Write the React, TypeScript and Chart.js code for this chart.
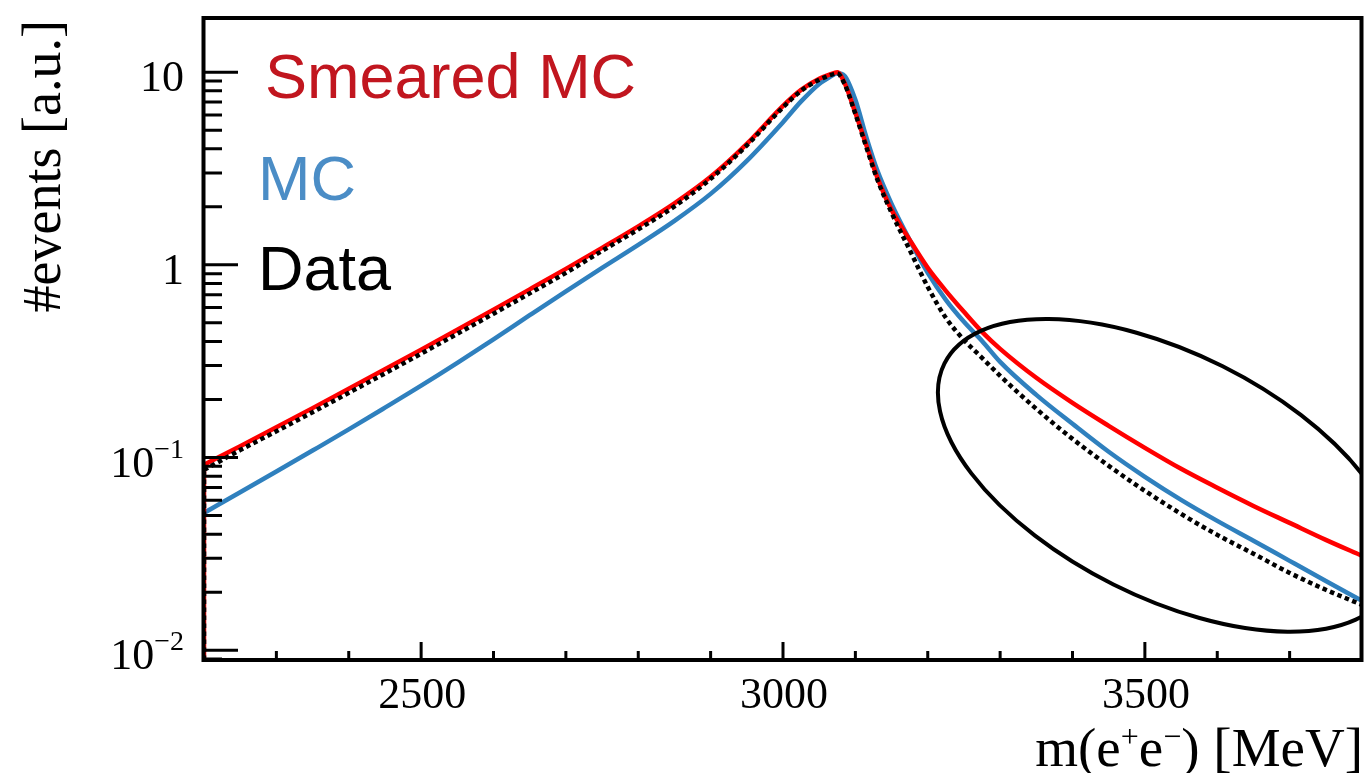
import React, { useEffect, useRef } from "react";
import { Chart, registerables } from "chart.js";

Chart.register(...registerables);

// ---- data ----
const massMeV = [
  2200, 2250, 2300, 2350, 2400, 2450, 2500, 2550, 2600, 2650, 2700, 2750, 2800, 2850,
  2900, 2950, 3000, 3025, 3050, 3065, 3075, 3085, 3100, 3115, 3130, 3150, 3175, 3200,
  3225, 3250, 3275, 3300, 3350, 3400, 3450, 3500, 3550, 3600, 3650, 3700, 3750, 3800,
];

const smearedMC = [
  0.0917, 0.1146, 0.1436, 0.1805, 0.2273, 0.2869, 0.363, 0.4604, 0.5855, 0.7461, 0.9532, 1.225, 1.584, 2.085,
  2.862, 4.246, 6.685, 8.092, 9.23, 9.741, 9.977, 8.8, 6.148, 4.195, 2.862, 1.929, 1.348, 0.9648,
  0.733, 0.5704, 0.449, 0.3665, 0.2593, 0.1922, 0.1461, 0.1123, 0.0874, 0.0697, 0.0561, 0.0458, 0.0374, 0.0309,
];

const mcSim = [
  0.0516, 0.066, 0.0846, 0.1087, 0.14, 0.1815, 0.236, 0.31, 0.411, 0.548, 0.729, 0.9648, 1.27, 1.692,
  2.335, 3.465, 5.5, 7.05, 8.69, 9.45, 9.86, 9.57, 7.18, 4.62, 3.11, 2.073, 1.348, 0.909,
  0.658, 0.506, 0.403, 0.3137, 0.2115, 0.1496, 0.1071, 0.0794, 0.0603, 0.0469, 0.037, 0.0291, 0.0229, 0.01805,
];

const dataValues = [
  0.0863, 0.1093, 0.1369, 0.172, 0.2167, 0.2734, 0.346, 0.4389, 0.558, 0.7113, 0.9088, 1.182, 1.528, 2.012,
  2.795, 4.171, 6.566, 7.998, 9.121, 9.626, 9.858, 8.695, 6.075, 4.097, 2.795, 1.862, 1.196, 0.769,
  0.531, 0.408, 0.3292, 0.2655, 0.1789, 0.125, 0.0906, 0.0672, 0.051, 0.0397, 0.0317, 0.0252, 0.0206, 0.0172,
];

const xMin = 2200;
const xMax = 3800;
const yMin = 0.0089;
const yMax = 19.1;

const xMajorTicks = [2500, 3000, 3500];
const xMinorTicks = [2300, 2400, 2600, 2700, 2800, 2900, 3100, 3200, 3300, 3400, 3600, 3700];
const yMajorTicks = [0.01, 0.1, 1, 10];
const yTickBase = ["10", "10", "1", "10"];
const yTickExponent = ["\u22122", "\u22121", "", ""];
const yMinorTicks = [
  0.009, 0.02, 0.03, 0.04, 0.05, 0.06, 0.07, 0.08, 0.09,
  0.2, 0.3, 0.4, 0.5, 0.6, 0.7, 0.8, 0.9,
  2, 3, 4, 5, 6, 7, 8, 9,
];

const legendLabels = ["Smeared MC", "MC", "Data"];
const legendColors = ["#c1161f", "#4b8dc6", "#000000"];

// annotation ellipse: centre in data units, radii in px, rotation in degrees
const ellipseNote = { centerMeV: 3532, centerValue: 0.0808, rx: 250, ry: 122, angleDeg: 26.6 };

const SERIF = '"Liberation Serif", "Times New Roman", serif';
const SANS = '"Liberation Sans", Arial, sans-serif';

const toPoints = (vals: number[]) => massMeV.map((m, i) => ({ x: m, y: vals[i] }));
// histogram's rising edge at the lower mass limit (from the axis floor up to the first bin)
const edgePoints = (vals: number[]) => [
  { x: massMeV[0], y: yMin },
  { x: massMeV[0], y: vals[0] },
];

const decorPlugin = {
  id: "decor",
  afterDatasetsDraw(chart: any) {
    const { ctx, chartArea: a, scales } = chart;
    const xs = scales.x;
    const ys = scales.y;
    ctx.save();

    // ellipse annotation, clipped to the frame
    ctx.save();
    ctx.beginPath();
    ctx.rect(a.left, a.top, a.right - a.left, a.bottom - a.top);
    ctx.clip();
    ctx.beginPath();
    ctx.ellipse(
      xs.getPixelForValue(ellipseNote.centerMeV),
      ys.getPixelForValue(ellipseNote.centerValue),
      ellipseNote.rx,
      ellipseNote.ry,
      (ellipseNote.angleDeg * Math.PI) / 180,
      0,
      Math.PI * 2
    );
    ctx.lineWidth = 4;
    ctx.strokeStyle = "#000";
    ctx.stroke();
    ctx.restore();

    // ticks
    ctx.strokeStyle = "#000";
    ctx.lineWidth = 3;
    ctx.lineCap = "butt";
    ctx.beginPath();
    xMajorTicks.forEach((m) => {
      const px = xs.getPixelForValue(m);
      ctx.moveTo(px, a.bottom);
      ctx.lineTo(px, a.bottom - 18);
    });
    xMinorTicks.forEach((m) => {
      const px = xs.getPixelForValue(m);
      ctx.moveTo(px, a.bottom);
      ctx.lineTo(px, a.bottom - 9);
    });
    yMajorTicks.forEach((v) => {
      const py = ys.getPixelForValue(v);
      ctx.moveTo(a.left, py);
      ctx.lineTo(a.left + 34, py);
    });
    yMinorTicks.forEach((v) => {
      const py = ys.getPixelForValue(v);
      ctx.moveTo(a.left, py);
      ctx.lineTo(a.left + 18, py);
    });
    ctx.stroke();

    // frame
    ctx.lineWidth = 4;
    ctx.strokeRect(a.left - 0.5, a.top, a.right - a.left, a.bottom - a.top);

    // x tick labels
    ctx.fillStyle = "#000";
    ctx.font = `44px ${SERIF}`;
    ctx.textAlign = "center";
    ctx.textBaseline = "alphabetic";
    xMajorTicks.forEach((m) => {
      ctx.fillText(String(m), xs.getPixelForValue(m) + 1, a.bottom + 48);
    });

    // y tick labels with superscript exponents
    yMajorTicks.forEach((v, i) => {
      const py = ys.getPixelForValue(v);
      const base = yTickBase[i];
      const exp = yTickExponent[i];
      ctx.font = `44px ${SERIF}`;
      const wb = ctx.measureText(base).width;
      ctx.font = `28px ${SERIF}`;
      const we = exp ? ctx.measureText(exp).width : 0;
      const right = a.left - 20;
      const start = right - wb - we;
      ctx.textAlign = "left";
      ctx.font = `44px ${SERIF}`;
      ctx.fillText(base, start, py + 19);
      if (exp) {
        ctx.font = `28px ${SERIF}`;
        ctx.fillText(exp, start + wb, py);
      }
    });

    // x axis title: m(e+e-) [MeV]
    const parts: [string, boolean][] = [
      ["m(e", false],
      ["+", true],
      ["e", false],
      ["\u2212", true],
      [") [MeV]", false],
    ];
    const bigFont = `55px ${SERIF}`;
    const supFont = `32px ${SERIF}`;
    let total = 0;
    parts.forEach(([t, sup]) => {
      ctx.font = sup ? supFont : bigFont;
      total += ctx.measureText(t).width;
    });
    let cx = a.right + 1 - total;
    const base = a.bottom + 106;
    ctx.textAlign = "left";
    parts.forEach(([t, sup]) => {
      ctx.font = sup ? supFont : bigFont;
      ctx.fillText(t, cx, sup ? base - 19 : base);
      cx += ctx.measureText(t).width;
    });

    // y axis title
    ctx.save();
    ctx.translate(60, a.top + 2);
    ctx.rotate(-Math.PI / 2);
    ctx.font = `54px ${SERIF}`;
    ctx.textAlign = "right";
    ctx.fillText("#events [a.u.]", 0, 0);
    ctx.restore();

    // legend-like labels
    ctx.font = `63px ${SANS}`;
    ctx.textAlign = "left";
    const legendX = [a.left + 61, a.left + 54, a.left + 54];
    const legendY = [a.top + 80, a.top + 182, a.top + 272];
    legendLabels.forEach((t, i) => {
      ctx.fillStyle = legendColors[i];
      ctx.fillText(t, legendX[i], legendY[i]);
    });

    ctx.restore();
  },
};

export default function App() {
  const canvasRef = useRef<HTMLCanvasElement | null>(null);

  useEffect(() => {
    const canvas = canvasRef.current;
    if (!canvas) return;
    const dataStyle = {
      borderColor: "#000000",
      borderWidth: 4.5,
      borderDash: [4.5, 3.5],
      pointRadius: 0,
      fill: false,
    };
    const smearStyle = { borderColor: "#ff0000", borderWidth: 4.5, pointRadius: 0, fill: false };
    const chart = new Chart(canvas, {
      type: "line",
      data: {
        datasets: [
          { label: "Data", data: toPoints(dataValues), cubicInterpolationMode: "monotone", ...dataStyle },
          { label: "Data edge", data: edgePoints(dataValues), ...dataStyle },
          { label: "Smeared MC", data: toPoints(smearedMC), cubicInterpolationMode: "monotone", ...smearStyle },
          { label: "Smeared MC edge", data: edgePoints(smearedMC), ...smearStyle },
          {
            label: "MC",
            data: toPoints(mcSim),
            borderColor: "#2f80be",
            borderWidth: 4.5,
            pointRadius: 0,
            fill: false,
            cubicInterpolationMode: "monotone",
          },
        ],
      },
      options: {
        animation: false,
        responsive: false,
        devicePixelRatio: 1,
        parsing: false,
        normalized: true,
        layout: { padding: { left: 204, top: 18, right: 2, bottom: 113 } },
        plugins: { legend: { display: false }, tooltip: { enabled: false }, title: { display: false } },
        events: [],
        scales: {
          x: { type: "linear", min: xMin, max: xMax, display: false },
          y: { type: "logarithmic", min: yMin, max: yMax, display: false },
        },
      },
      plugins: [decorPlugin],
    } as any);
    return () => chart.destroy();
  }, []);

  return (
    <div style={{ position: "fixed", left: 0, top: 0, width: 1364, height: 773, background: "#ffffff" }}>
      <canvas ref={canvasRef} width={1364} height={773} style={{ display: "block" }} />
    </div>
  );
}
